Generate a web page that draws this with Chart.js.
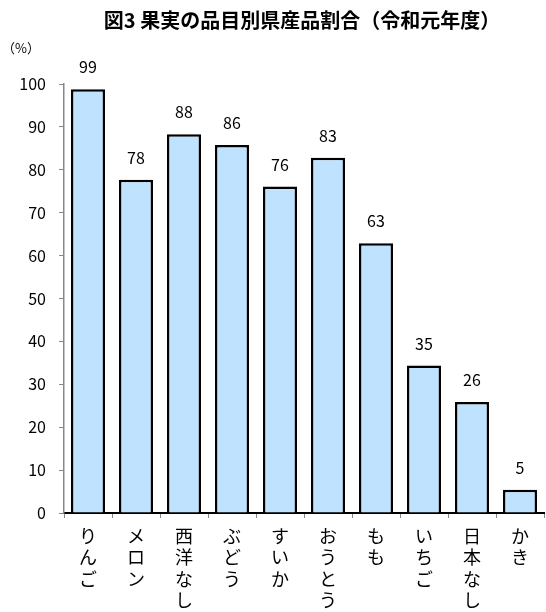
<!DOCTYPE html>
<html>
<head>
<meta charset="utf-8">
<script src="https://cdn.jsdelivr.net/npm/chart.js@4"></script>
<style>
  html, body { margin: 0; padding: 0; background: #fff; }
  #wrap { width: 546px; height: 612px; position: relative; }
</style>
</head>
<body>
<div id="wrap"><canvas id="myChart"></canvas></div>
<script>
// 果実の品目別県産品割合（令和元年度）
const categories = ["りんご", "メロン", "西洋なし", "ぶどう", "すいか", "おうとう", "もも", "いちご", "日本なし", "かき"];
const shares = [98.8, 77.7, 88.3, 85.8, 76.1, 82.8, 62.9, 34.4, 25.9, 5.4];
const shareLabels = ["99", "78", "88", "86", "76", "83", "63", "35", "26", "5"];
const yTicks = [0, 10, 20, 30, 40, 50, 60, 70, 80, 90, 100];

const FONT = "'Noto Sans CJK JP', 'Noto Sans', sans-serif";

const textPlugin = {
  id: 'textPlugin',
  afterDraw(chart) {
    const ctx = chart.ctx;
    ctx.save();
    ctx.fillStyle = '#000';
    ctx.font = 'bold 20px ' + FONT;
    ctx.textAlign = 'center';
    ctx.textBaseline = 'middle';
    ctx.fillText('図3 果実の品目別県産品割合（令和元年度）', 302, 20);
    ctx.font = '13px ' + FONT;
    ctx.textAlign = 'left';
    ctx.fillText('（%）', 2, 48);
    // value labels over the bars
    const meta = chart.getDatasetMeta(0);
    ctx.font = '16px ' + FONT;
    ctx.textAlign = 'center';
    ctx.textBaseline = 'bottom';
    meta.data.forEach((bar, i) => {
      ctx.fillText(shareLabels[i], bar.x, bar.y - 14);
    });
    ctx.restore();
  }
};

new Chart(document.getElementById('myChart'), {
  type: 'bar',
  data: {
    labels: categories.map(c => c.split('')),
    datasets: [{
      data: shares,
      backgroundColor: '#BFE3FF',
      borderColor: '#000',
      borderWidth: 2.5,
      categoryPercentage: 1,
      barPercentage: 0.71
    }]
  },
  options: {
    responsive: true,
    maintainAspectRatio: false,
    animation: false,
    layout: { padding: { top: 84, right: 2, left: 0, bottom: 0 } },
    plugins: { legend: { display: false }, tooltip: { enabled: false } },
    scales: {
      x: {
        grid: { display: true, drawOnChartArea: false, drawTicks: true, tickLength: 5, color: '#888', offset: true },
        border: { color: '#000', width: 2 },
        ticks: { color: '#000', font: { family: FONT, size: 18 }, padding: 7, maxRotation: 0, autoSkip: false },
        afterFit(scale) { scale.height = 99; }
      },
      y: {
        min: 0,
        max: 100,
        afterBuildTicks(scale) { scale.ticks = yTicks.map(v => ({ value: v })); },
        grid: { display: true, drawOnChartArea: false, drawTicks: true, tickLength: 5, color: '#888' },
        border: { color: '#888', width: 1.5 },
        ticks: { color: '#000', font: { family: FONT, size: 16 }, padding: 13 },
        afterFit(scale) { scale.width = 64; }
      }
    }
  },
  plugins: [textPlugin]
});
</script>
</body>
</html>
